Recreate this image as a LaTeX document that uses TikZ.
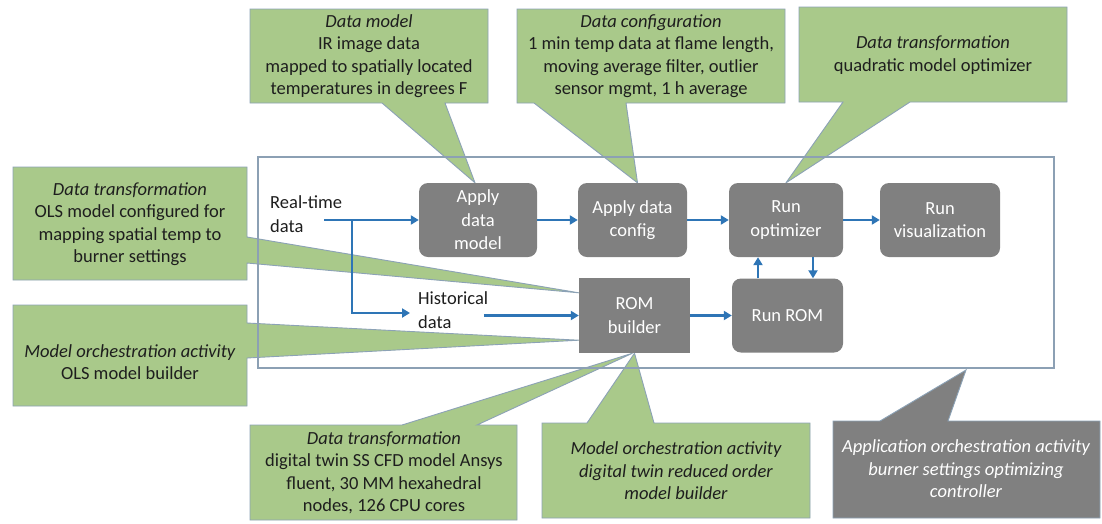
\documentclass[tikz,border=0pt]{standalone}
\usepackage{fontspec}
\setmainfont{Carlito}
\usetikzlibrary{arrows.meta,backgrounds}

\definecolor{notegreen}{RGB}{169,201,138}
\definecolor{noteedge}{RGB}{140,162,182}
\definecolor{stepgray}{RGB}{128,128,128}
\definecolor{flowblue}{RGB}{46,117,182}
\definecolor{frameedge}{RGB}{140,160,180}
\definecolor{inktext}{RGB}{30,30,30}

\newcommand\notefont{\fontsize{18.5}{22.5}\selectfont}
\newcommand\procfont{\fontsize{18.5}{23.5}\selectfont}

\begin{document}
\begin{tikzpicture}[x=1pt,y=-1pt,
  proc/.style={rounded corners=9pt, fill=stepgray, text=white, align=center,
    inner sep=0pt, font=\procfont},
  procsq/.style={proc, rounded corners=0pt},
  note/.style={fill=notegreen, draw=noteedge, line width=0.9pt, line join=miter},
  darknote/.style={note, fill=stepgray},
  notetext/.style={text=inktext, align=center, font=\notefont, inner sep=0pt},
  darktext/.style={notetext, text=white},
  plain/.style={text=inktext, align=left, font=\procfont, inner sep=0pt},
  frameline/.style={draw=frameedge, line width=1.1pt, inner sep=0pt},
  flow/.style={draw=flowblue, line width=2.8pt,
    -{Triangle[length=8pt,width=9pt]}}]

\useasboundingbox (0,0) rectangle (1102,523);

% process steps
\node[proc, minimum width=118pt, minimum height=74pt] (am) at (478,220) {Apply\\data\\model};
\node[proc, minimum width=109pt, minimum height=74pt] (ac) at (632.5,220) {Apply data\\config};
\node[proc, minimum width=114pt, minimum height=74pt] (ro) at (786,220) {Run\\optimizer};
\node[proc, minimum width=120pt, minimum height=74pt] (rv) at (940,220) {Run\\visualization};
\node[procsq, minimum width=111pt, minimum height=75pt] (rb) at (634.5,315.5) {ROM\\builder};
\node[proc, minimum width=111pt, minimum height=74pt] (rr) at (787.5,315.5) {Run ROM};

% data sources
\node[plain, anchor=west] (rt) at (270,214) {Real-time\\data};
\node[plain, anchor=west] (hd) at (418,310) {Historical\\data};

% activity frame
\node[frameline, minimum width=796pt, minimum height=211pt] (frame) at (656,262.5) {};

% callout texts
\node[notetext] (c1) at (369,56) {\textit{Data model}\\IR image data\\mapped to spatially located\\temperatures in degrees F};
\node[notetext] (c2) at (651,56) {\textit{Data configuration}\\1 min temp data at flame length,\\moving average filter, outlier\\sensor mgmt, 1 h average};
\node[notetext] (c3) at (933,55) {\textit{Data transformation}\\quadratic model optimizer};
\node[notetext] (c4) at (130,224) {\textit{Data transformation}\\OLS model configured for\\mapping spatial temp to\\burner settings};
\node[notetext] (c5) at (130,362) {\textit{Model orchestration activity}\\OLS model builder};
\node[notetext] (c6) at (384,473) {\textit{Data transformation}\\digital twin SS CFD model Ansys\\fluent, 30 MM hexahedral\\nodes, 126 CPU cores};
\node[notetext] (c7) at (676,471) {\itshape Model orchestration activity\\\itshape digital twin reduced order\\\itshape model builder};
\node[darktext] (c8) at (966,469) {\itshape Application orchestration activity\\\itshape burner settings optimizing\\\itshape controller};

% callout bodies with their pointers, behind everything else
\begin{scope}[on background layer]
  \fill[white] (0,0) rectangle (1102,523);
  \path[note] (250,9) -- (488,9) -- (488,103) -- (445,103) -- ([xshift=-3pt]am.north)
    -- (382,103) -- (250,103) -- cycle;
  \path[note] (517,9) -- (785,9) -- (785,103) -- (626,103) -- ([xshift=5pt]ac.north)
    -- (534,103) -- (517,103) -- cycle;
  \path[note] (799,7) -- (1067,7) -- (1067,102) -- (910,102) -- (ro.north)
    -- (843,102) -- (799,102) -- cycle;
  \path[note] (13,167) -- (247,167) -- (247,237) -- ([yshift=-15pt]rb.north west)
    -- (247,263) -- (247,280) -- (13,280) -- cycle;
  \path[note] (13,305) -- (247,305) -- (247,323) -- ([yshift=13pt]rb.south west)
    -- (247,358) -- (247,406) -- (13,406) -- cycle;
  \path[note] (250,425) -- (402,425) -- ([xshift=-2pt]rb.south) -- (477,425)
    -- (517,425) -- (517,520) -- (250,520) -- cycle;
  \path[note] (542,423) -- (587,423) -- (rb.south) -- (654,423)
    -- (810,423) -- (810,518) -- (542,518) -- cycle;
  \path[darknote] (833,421) -- (880,421) -- (966,370) -- (948,421)
    -- (1100,421) -- (1100,518) -- (833,518) -- cycle;
  \draw[frameline] (frame.north west) rectangle (frame.south east);
\end{scope}

% data flow
\coordinate (rtout) at (324,220);
\coordinate (split) at (352,220);
\draw[flow] (rtout) -- (am.west);
\draw[flow] (split) |- ([xshift=-8pt,yshift=-3pt]hd.west);
\draw[flow] ([xshift=-95pt]rb.west) -- (rb.west);
\draw[flow] (am.east) -- (ac.west);
\draw[flow] (ac.east) -- (ro.west);
\draw[flow] (ro.east) -- (rv.west);
\draw[flow] (rb.east) -- (rr.west);
\coordinate (upx) at ([xshift=-28pt]ro.south);
\coordinate (downx) at ([xshift=27pt]ro.south);
\draw[flow] (upx |- rr.north) -- (upx);
\draw[flow] (downx) -- (downx |- rr.north);

\end{tikzpicture}
\end{document}
